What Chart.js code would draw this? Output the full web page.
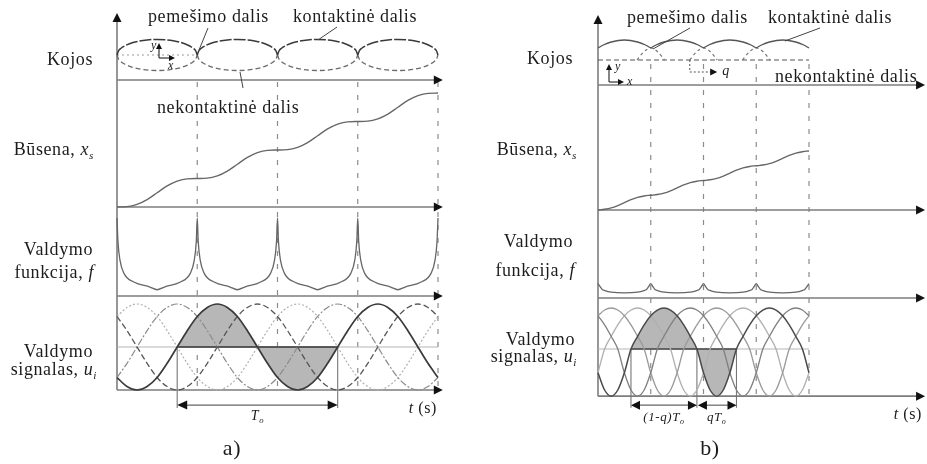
<!DOCTYPE html>
<html>
<head>
<meta charset="utf-8">
<style>
  html, body { margin: 0; padding: 0; background: #fff; }
  canvas { display: block; }
</style>
<script src="https://cdn.jsdelivr.net/npm/chart.js@4.4.0/dist/chart.umd.min.js"></script>
</head>
<body>
<canvas id="gait" width="927" height="464"></canvas>
<script>
// ---- values (time in leg cycles) ----
const cycles = [0, 1, 2, 3];

// Kojos: one leg cycle, lift of the ellipse around its mid line
const legPhase = [0, .02, .05, .1, .2, .3, .4, .5, .6, .7, .8, .9, .95, .98, 1];
const legLiftA = [0, .17, .27, .37, .5, .57, .61, .62, .61, .57, .5, .37, .27, .17, 0];
const legMidA = 1;

const stancePhaseB = [0, .1, .25, .5, .75, .9, 1];
const stanceB = [1.48, 1.6, 1.72, 1.8, 1.72, 1.6, 1.48];
const swingOffsetB = [-.26, -.13, 0, .13, .26];
const swingB = [1, 1.33, 1.48, 1.33, 1];
const swingCentersB = [1, 2, 3];
const groundB = 1;

// Busena x_s, sampled every 1/8 cycle
const stateStep = 0.125;
const stateA = [0, .01, .09, .26, .5, .74, .91, .99,
                1, 1.01, 1.09, 1.26, 1.5, 1.74, 1.91, 1.99,
                2, 2.01, 2.09, 2.26, 2.5, 2.74, 2.91, 2.99,
                3, 3.01, 3.09, 3.26, 3.5, 3.74, 3.91, 3.99, 4];
const stateB = [0, .05, .14, .3, .5, .7, .86, .95,
                1, 1.05, 1.14, 1.3, 1.5, 1.7, 1.86, 1.95,
                2, 2.05, 2.14, 2.3, 2.5, 2.7, 2.86, 2.95,
                3, 3.05, 3.14, 3.3, 3.5, 3.7, 3.86, 3.95, 4];

// Valdymo funkcija f, one leg cycle
const fPhaseA = [0, .012, .037, .087, .21, .41, .5, .59, .79, .913, .963, .988, 1];
const fA = [10, 7, 4.6, 2.9, 1.8, 1.15, .8, 1.15, 1.8, 2.9, 4.6, 7, 10];
const fPhaseB = [0, .04, .08, .13, .25, .5, .75, .87, .92, .96, 1];
const fB = [1.85, 1.45, 1.1, .95, .75, .65, .75, .95, 1.1, 1.45, 1.85];

// Valdymo signalas u_i, one period T_o = 2 cycles, sampled every 1/8 cycle
const periodTo = 2;
const sigStep = 0.125;
const sigShapeA = [0, .38, .71, .92, 1, .92, .71, .38, 0, -.38, -.71, -.92, -1, -.92, -.71, -.38];
const sigShapeB = [0, .31, .59, .81, .95, 1, .95, .81, .59, .31, 0, -.58, -1, -1.15, -1, -.58];
const sigStartA = [0.75, 1.25, 1.75, 2.25];
const sigStartB = [0.625, 1.125, 1.625, 2.125];
const qB = 0.375;
const sigEnd = 4;

// ---- build datasets ----
const W = 927, H = 464;
function xAxis(px0, ppu) { return { type: 'linear', axis: 'x', position: 'bottom', display: false, min: -px0 / ppu, max: (W - px0) / ppu }; }
function yAxis(px0, ppu) { return { type: 'linear', axis: 'y', position: 'left', display: false, min: -(H - px0) / ppu, max: px0 / ppu }; }

function ds(x, y, data, o) {
  return Object.assign({ type: 'line', xAxisID: x, yAxisID: y, data, borderColor: '#555', borderWidth: 1.2,
    pointRadius: 0, fill: false, tension: 0, order: 1 }, o);
}
const smooth = { cubicInterpolationMode: 'monotone' };

function tile(phase, vals, shift) {
  const out = [];
  cycles.forEach(n => phase.forEach((p, i) => {
    if (n > 0 && i === 0) return;
    out.push({ x: n + p, y: shift(vals[i]) });
  }));
  return out;
}
function arcs(phase, vals, shift) {
  const out = [];
  cycles.forEach(n => {
    phase.forEach((p, i) => out.push({ x: n + p, y: shift(vals[i]) }));
    out.push({ x: n + 1, y: null });
  });
  return out;
}
function state(vals) { return vals.map((v, i) => ({ x: i * stateStep, y: v })); }
function signal(shape, start, from, to) {
  const out = [];
  const n = shape.length;
  for (let k = Math.round(from / sigStep); k <= Math.round(to / sigStep); k++) {
    const j = (((k - Math.round(start / sigStep)) % n) + n) % n;
    out.push({ x: k * sigStep, y: shape[j] });
  }
  return out;
}

const datasets = [];
// panel a
datasets.push(ds('xa', 'ya1', arcs(legPhase, legLiftA, v => legMidA + v), Object.assign({ borderColor: '#3a3a3a', borderWidth: 1.5, borderDash: [12, 2] }, smooth)));
datasets.push(ds('xa', 'ya1', arcs(legPhase, legLiftA, v => legMidA - v), Object.assign({ borderColor: '#6a6a6a', borderWidth: 1.3, borderDash: [5, 3] }, smooth)));
datasets.push(ds('xa', 'ya1', [{ x: 0, y: legMidA }, { x: 1, y: legMidA }], { borderColor: '#9a9a9a', borderWidth: 1, borderDash: [2, 3] }));
datasets.push(ds('xa', 'ya2', state(stateA), Object.assign({ borderColor: '#666', borderWidth: 1.3 }, smooth)));
datasets.push(ds('xa', 'ya3', tile(fPhaseA, fA, v => v), Object.assign({ borderColor: '#666', borderWidth: 1.3 }, smooth)));

const sigStyleA = [
  { borderColor: '#3a3a3a', borderWidth: 1.7, order: 0 },
  { borderColor: '#555', borderWidth: 1.3, borderDash: [6, 3], order: 1 },
  { borderColor: '#b0b0b0', borderWidth: 1.2, borderDash: [2, 2], order: 2 },
  { borderColor: '#8a8a8a', borderWidth: 1.2, borderDash: [7, 2, 2, 2], order: 3 }
];
sigStartA.forEach((s, k) => datasets.push(ds('xa', 'ya4', signal(sigShapeA, s, 0, sigEnd), Object.assign({}, smooth, sigStyleA[k]))));
datasets.push(ds('xa', 'ya4', signal(sigShapeA, sigStartA[0], sigStartA[0], sigStartA[0] + periodTo),
  Object.assign({ borderWidth: 0, fill: { value: 0 }, backgroundColor: '#b7b7b7', order: 6 }, smooth)));
datasets.push(ds('xa', 'ya4', [{ x: 0, y: 0 }, { x: sigEnd, y: 0 }], { borderColor: '#b5b5b5', borderWidth: 1, order: 5 }));
datasets.push(ds('xa', 'ya4', [{ x: sigStartA[0], y: 0 }, { x: sigStartA[0] + periodTo, y: 0 }], { borderColor: '#333', borderWidth: 1.6, order: 4 }));
[sigStartA[0], sigStartA[0] + periodTo].forEach(t =>
  datasets.push(ds('xa', 'ya4', [{ x: t, y: 0 }, { x: t, y: -1.42 }], { borderColor: '#777', borderWidth: 1.1, order: 4 })));

// panel b
datasets.push(ds('xb', 'yb1', arcs(stancePhaseB, stanceB, v => v), Object.assign({ borderColor: '#555', borderWidth: 1.3 }, smooth)));
const swingData = [];
swingCentersB.forEach(c => { swingOffsetB.forEach((o, i) => swingData.push({ x: c + o, y: swingB[i] })); swingData.push({ x: c + 1, y: null }); });
datasets.push(ds('xb', 'yb1', swingData, Object.assign({ borderColor: '#777', borderWidth: 1.2, borderDash: [3, 3] }, smooth)));
datasets.push(ds('xb', 'yb1', [{ x: 0, y: groundB }, { x: sigEnd, y: groundB }], { borderColor: '#555', borderWidth: 1.2, borderDash: [5, 3] }));
datasets.push(ds('xb', 'yb2', state(stateB), Object.assign({ borderColor: '#666', borderWidth: 1.3 }, smooth)));
datasets.push(ds('xb', 'yb3', tile(fPhaseB, fB, v => v), Object.assign({ borderColor: '#666', borderWidth: 1.3 }, smooth)));

const sigStyleB = [
  { borderColor: '#4a4a4a', borderWidth: 1.5, order: 0 },
  { borderColor: '#808080', borderWidth: 1.3, order: 1 },
  { borderColor: '#9a9a9a', borderWidth: 1.3, order: 2 },
  { borderColor: '#b0b0b0', borderWidth: 1.3, order: 3 }
];
sigStartB.forEach((s, k) => datasets.push(ds('xb', 'yb4', signal(sigShapeB, s, 0, sigEnd), Object.assign({}, smooth, sigStyleB[k]))));
datasets.push(ds('xb', 'yb4', signal(sigShapeB, sigStartB[0], sigStartB[0], sigStartB[0] + periodTo),
  Object.assign({ borderWidth: 0, fill: { value: 0 }, backgroundColor: '#b7b7b7', order: 6 }, smooth)));
datasets.push(ds('xb', 'yb4', [{ x: 0, y: 0 }, { x: sigEnd, y: 0 }], { borderColor: '#b5b5b5', borderWidth: 1, order: 5 }));
datasets.push(ds('xb', 'yb4', [{ x: sigStartB[0], y: 0 }, { x: sigStartB[0] + periodTo, y: 0 }], { borderColor: '#444', borderWidth: 1.4, order: 4 }));
[sigStartB[0], sigStartB[0] + (1 - qB) * periodTo, sigStartB[0] + periodTo].forEach(t =>
  datasets.push(ds('xb', 'yb4', [{ x: t, y: 0 }, { x: t, y: -1.43 }], { borderColor: '#777', borderWidth: 1.1, order: 4 })));

// ---- drawing helpers for axes and text ----
function seg(ctx, x1, y1, x2, y2, color, w, dash) {
  ctx.save(); ctx.strokeStyle = color; ctx.lineWidth = w; ctx.setLineDash(dash || []);
  ctx.beginPath(); ctx.moveTo(x1, y1); ctx.lineTo(x2, y2); ctx.stroke(); ctx.restore();
}
function head(ctx, x, y, dir, len, half) {
  len = len || 9; half = half || 4.5;
  ctx.save(); ctx.fillStyle = '#111'; ctx.beginPath(); ctx.moveTo(x, y);
  if (dir === 'r') { ctx.lineTo(x - len, y - half); ctx.lineTo(x - len, y + half); }
  if (dir === 'l') { ctx.lineTo(x + len, y - half); ctx.lineTo(x + len, y + half); }
  if (dir === 'u') { ctx.lineTo(x - half, y + len); ctx.lineTo(x + half, y + len); }
  ctx.closePath(); ctx.fill(); ctx.restore();
}
function rich(ctx, parts, x, y, align, size) {
  size = size || 18;
  ctx.save(); ctx.fillStyle = '#1c1c1c'; ctx.textAlign = 'left'; ctx.textBaseline = 'alphabetic';
  ctx.letterSpacing = '0.6px';
  let w = 0;
  const items = parts.map(([t, st]) => {
    const sub = st === 'is' || st === 's';
    const fs = sub ? size * 0.62 : size;
    const font = (st === 'i' || st === 'is' ? 'italic ' : '') + fs + 'px "Liberation Serif", "Times New Roman", serif';
    ctx.font = font;
    const tw = ctx.measureText(t).width;
    w += tw;
    return { t, font, tw, dy: sub ? size * 0.22 : 0 };
  });
  let cx = align === 'right' ? x - w : align === 'center' ? x - w / 2 : x;
  items.forEach(it => { ctx.font = it.font; ctx.fillText(it.t, cx, y + it.dy); cx += it.tw; });
  ctx.restore();
}

const axisColor = '#7d7d7d';
const guideColor = '#8c8c8c';
const axisEndA = 4.06, axisEndB = 6.2, axisTopA = 2.68, axisTopB = 2.8;

const extras = {
  id: 'extras',
  beforeDatasetsDraw(chart) {
    const { ctx, scales: s } = chart;
    // panel a
    const a0 = s.xa.getPixelForValue(0), aEnd = s.xa.getPixelForValue(axisEndA);
    const rowsA = [s.ya1.getPixelForValue(0), s.ya2.getPixelForValue(0), s.ya3.getPixelForValue(0), s.ya4.getPixelForValue(-1)];
    cycles.forEach(n => { const x = s.xa.getPixelForValue(n + 1); seg(ctx, x, rowsA[0] + 2, x, rowsA[3], guideColor, 1.2, [5, 8]); });
    rowsA.forEach(y => seg(ctx, a0, y, aEnd - 6, y, axisColor, 1.6));
    seg(ctx, a0, rowsA[3], a0, s.ya1.getPixelForValue(axisTopA) + 6, axisColor, 1.6);
    // panel b
    const b0 = s.xb.getPixelForValue(0), bEnd = s.xb.getPixelForValue(axisEndB);
    const rowsB = [s.yb1.getPixelForValue(0), s.yb2.getPixelForValue(0), s.yb3.getPixelForValue(0), s.yb4.getPixelForValue(-1.15)];
    cycles.forEach(n => { const x = s.xb.getPixelForValue(n + 1); seg(ctx, x, s.yb1.getPixelForValue(groundB) + 4, x, rowsB[3], guideColor, 1.2, [5, 8]); });
    rowsB.forEach(y => seg(ctx, b0, y, bEnd - 6, y, axisColor, 1.6));
    seg(ctx, b0, rowsB[3], b0, s.yb1.getPixelForValue(axisTopB) + 6, axisColor, 1.6);
  },
  afterDatasetsDraw(chart) {
    const { ctx, scales: s } = chart;
    // arrow heads of the axes
    const a0 = s.xa.getPixelForValue(0), aEnd = s.xa.getPixelForValue(axisEndA);
    [s.ya1.getPixelForValue(0), s.ya2.getPixelForValue(0), s.ya3.getPixelForValue(0), s.ya4.getPixelForValue(-1)]
      .forEach(y => head(ctx, aEnd, y, 'r'));
    head(ctx, a0, s.ya1.getPixelForValue(axisTopA), 'u');
    const b0 = s.xb.getPixelForValue(0), bEnd = s.xb.getPixelForValue(axisEndB);
    [s.yb1.getPixelForValue(0), s.yb2.getPixelForValue(0), s.yb3.getPixelForValue(0), s.yb4.getPixelForValue(-1.15)]
      .forEach(y => head(ctx, bEnd, y, 'r'));
    head(ctx, b0, s.yb1.getPixelForValue(axisTopB), 'u');

    // small x/y frames in the leg rows
    seg(ctx, 159, 58, 159, 48, '#333', 1.2); head(ctx, 159, 43, 'u', 6, 3);
    seg(ctx, 159, 58, 169, 58, '#333', 1.2); head(ctx, 175, 58, 'r', 6, 3);
    rich(ctx, [['y', 'i']], 151, 49, 'left', 12);
    rich(ctx, [['x', 'i']], 168, 69, 'left', 12);
    seg(ctx, 609, 82, 609, 70, '#333', 1.2); head(ctx, 609, 64, 'u', 6, 3);
    seg(ctx, 609, 82, 618, 82, '#333', 1.2); head(ctx, 624, 82, 'r', 6, 3);
    rich(ctx, [['y', 'i']], 615, 70, 'left', 12);
    rich(ctx, [['x', 'i']], 627, 85, 'left', 12);
    // q bracket
    const qx0 = s.xb.getPixelForValue(swingCentersB[1] + swingOffsetB[0]);
    const qx1 = s.xb.getPixelForValue(swingCentersB[1] + swingOffsetB[4]);
    const gy = s.yb1.getPixelForValue(groundB), qy = s.yb1.getPixelForValue(0.52);
    seg(ctx, qx0, gy, qx0, qy, '#555', 1, [2, 2]);
    seg(ctx, qx0, qy, qx1 - 6, qy, '#555', 1, [2, 2]);
    head(ctx, qx1, qy, 'r', 7, 3.5);
    rich(ctx, [['q', 'i']], qx1 + 5, qy + 3, 'left', 14);

    // leader lines
    seg(ctx, 208, 28, 199, 50, '#444', 1);
    seg(ctx, 337, 27, 318, 40, '#444', 1);
    seg(ctx, 240, 72, 243, 88, '#444', 1);
    seg(ctx, 690, 28, 653, 49, '#444', 1);
    seg(ctx, 820, 28, 785, 41, '#444', 1);

    // dimension arrows
    const ay = s.ya4.getPixelForValue(-1.35);
    const t0 = s.xa.getPixelForValue(sigStartA[0]), t1 = s.xa.getPixelForValue(sigStartA[0] + periodTo);
    seg(ctx, t0 + 8, ay, t1 - 8, ay, '#666', 1.2);
    head(ctx, t0, ay, 'l', 10, 4.5); head(ctx, t1, ay, 'r', 10, 4.5);
    const by = s.yb4.getPixelForValue(-1.37);
    const u0 = s.xb.getPixelForValue(sigStartB[0]);
    const u1 = s.xb.getPixelForValue(sigStartB[0] + (1 - qB) * periodTo);
    const u2 = s.xb.getPixelForValue(sigStartB[0] + periodTo);
    seg(ctx, u0 + 8, by, u1 - 8, by, '#666', 1.2);
    head(ctx, u0, by, 'l', 9, 4.5); head(ctx, u1, by, 'r', 9, 4.5);
    seg(ctx, u1 + 8, by, u2 - 8, by, '#666', 1.2);
    head(ctx, u1 + 1, by, 'l', 9, 4.5); head(ctx, u2, by, 'r', 9, 4.5);
    rich(ctx, [['T', 'i'], ['o', 'is']], (t0 + t1) / 2, 420, 'center', 14);
    rich(ctx, [['(1-q)T', 'i'], ['o', 'is']], (u0 + u1) / 2, 421, 'center', 13);
    rich(ctx, [['qT', 'i'], ['o', 'is']], (u1 + u2) / 2, 421, 'center', 13);
    rich(ctx, [['t', 'i'], [' (s)', '']], 437, 413, 'right', 16);
    rich(ctx, [['t', 'i'], [' (s)', '']], 922, 419, 'right', 16);

    // row labels, panel a
    rich(ctx, [['pemešimo dalis', '']], 148, 22, 'left');
    rich(ctx, [['kontaktinė dalis', '']], 293, 22, 'left');
    rich(ctx, [['nekontaktinė dalis', '']], 157, 113, 'left');
    rich(ctx, [['Kojos', '']], 93, 65, 'right');
    rich(ctx, [['Būsena, ', ''], ['x', 'i'], ['s', 'is']], 94, 155, 'right');
    rich(ctx, [['Valdymo', '']], 93, 255, 'right');
    rich(ctx, [['funkcija, ', ''], ['f', 'i']], 94, 278, 'right');
    rich(ctx, [['Valdymo', '']], 93, 357, 'right');
    rich(ctx, [['signalas, ', ''], ['u', 'i'], ['i', 'is']], 97, 375, 'right');
    rich(ctx, [['a)', '']], 232, 455, 'center', 22);
    // row labels, panel b
    rich(ctx, [['pemešimo dalis', '']], 627, 23, 'left');
    rich(ctx, [['kontaktinė dalis', '']], 768, 23, 'left');
    rich(ctx, [['nekontaktinė dalis', '']], 775, 82, 'left');
    rich(ctx, [['Kojos', '']], 573, 64, 'right');
    rich(ctx, [['Būsena, ', ''], ['x', 'i'], ['s', 'is']], 577, 155, 'right');
    rich(ctx, [['Valdymo', '']], 573, 247, 'right');
    rich(ctx, [['funkcija, ', ''], ['f', 'i']], 575, 276, 'right');
    rich(ctx, [['Valdymo', '']], 575, 345, 'right');
    rich(ctx, [['signalas, ', ''], ['u', 'i'], ['i', 'is']], 577, 362, 'right');
    rich(ctx, [['b)', '']], 710, 455, 'center', 22);
  }
};

new Chart(document.getElementById('gait').getContext('2d'), {
  type: 'line',
  data: { datasets },
  options: {
    responsive: false,
    animation: false,
    events: [],
    layout: { padding: 0 },
    plugins: { legend: { display: false }, tooltip: { enabled: false }, title: { display: false } },
    scales: {
      xa: xAxis(117, 80.25),
      xb: xAxis(598, 52.75),
      ya1: yAxis(80, 25),
      ya2: yAxis(207, 28.5),
      ya3: yAxis(296, 7.8),
      ya4: yAxis(347, 43),
      yb1: yAxis(85, 25),
      yb2: yAxis(210, 14.75),
      yb3: yAxis(298, 7.8),
      yb4: yAxis(349, 41)
    }
  },
  plugins: [extras]
});
</script>
</body>
</html>
